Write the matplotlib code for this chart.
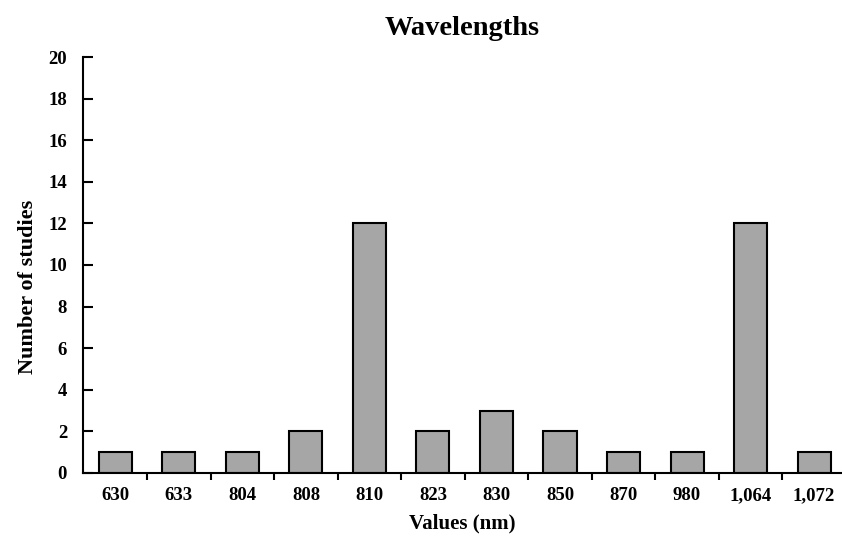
import matplotlib
matplotlib.use("Agg")
import matplotlib.pyplot as plt
from matplotlib.ticker import FixedLocator

categories = ["630", "633", "804", "808", "810", "823", "830", "850", "870", "980", "1,064", "1,072"]
values = [1, 1, 1, 2, 12, 2, 3, 2, 1, 1, 12, 1]

plt.rcParams['font.family'] = ['Liberation Serif', 'DejaVu Serif']
plt.rcParams['font.weight'] = 'bold'

fig = plt.figure(figsize=(8.42, 5.38), dpi=100)
ax = fig.add_axes([0.0986, 0.121, 0.9014, 0.773])

x = list(range(len(categories)))
ax.bar(x, values, width=0.52, color='#a6a6a6', edgecolor='black', linewidth=1.5, zorder=2)

ax.set_xlim(-0.51, 11.44)
ax.set_ylim(0, 20)
ax.set_yticks(range(0, 21, 2))
ax.set_xticks(x)
ax.set_xticklabels(categories)
ax.xaxis.set_minor_locator(FixedLocator([i + 0.5 for i in range(len(categories) - 1)]))
ax.tick_params(axis='x', which='major', length=0, pad=10, labelsize=13.5)
ax.tick_params(axis='x', which='minor', length=5, width=1.5, direction='out')
ax.tick_params(axis='y', which='major', length=7, width=1.5, direction='in', pad=11.5, labelsize=13.5)

for s in ['top', 'right']:
    ax.spines[s].set_visible(False)
for s in ['left', 'bottom']:
    ax.spines[s].set_linewidth(1.5)

for lab in ax.get_xticklabels() + ax.get_yticklabels():
    lab.set_fontweight('bold')

ax.set_title("Wavelengths", fontsize=20.5, fontweight='bold', pad=16, x=0.5)
ax.set_xlabel("Values (nm)", fontsize=15, fontweight='bold', labelpad=7)
ax.set_ylabel("Number of studies", fontsize=16, fontweight='bold')
ax.yaxis.set_label_coords(-0.059, 0.447)

fig.savefig("out.png", dpi=100)
